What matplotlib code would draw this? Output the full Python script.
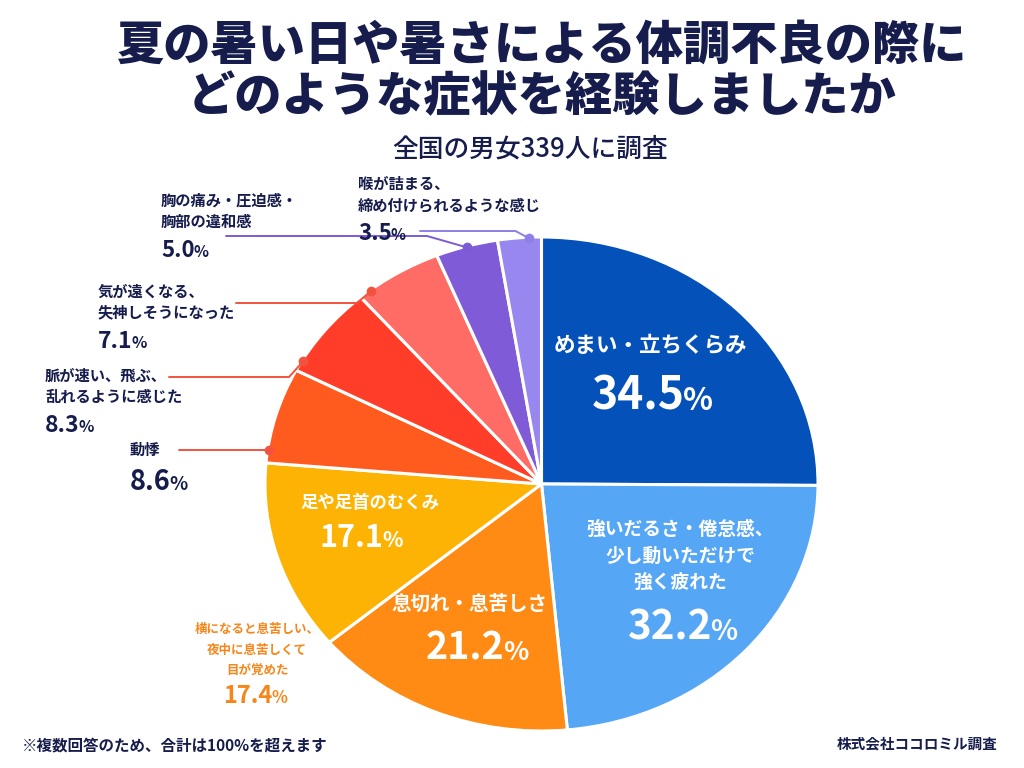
import matplotlib
matplotlib.use("Agg")
import matplotlib.pyplot as plt
import numpy as np

plt.rcParams['font.family'] = ['Noto Sans CJK JP', 'DejaVu Sans']

# data (multiple answers, so the total exceeds 100%)
labels = ['めまい・立ちくらみ', '強いだるさ・倦怠感、\n少し動いただけで\n強く疲れた', '息切れ・息苦しさ',
          '足や足首のむくみ', '動悸', '脈が速い、飛ぶ、\n乱れるように感じた',
          '気が遠くなる、\n失神しそうになった', '胸の痛み・圧迫感・\n胸部の違和感',
          '喉が詰まる、\n締め付けられるような感じ']
values = [34.5, 32.2, 21.2, 17.1, 8.6, 8.3, 7.1, 5.0, 3.5]
colors = ['#0551BA', '#56A6F6', '#FF8B14', '#FDB304', '#FF5B1E', '#FF3D28',
          '#FF6C66', '#7F5BD8', '#9787EE']
extra_label = '横になると息苦しい、\n夜中に息苦しくて\n目が覚めた'
extra_value = 17.4

navy = '#161C4C'
W, H = 1024, 768
fig = plt.figure(figsize=(W / 100, H / 100), dpi=100)
fig.patch.set_facecolor('white')

# pie axes (slightly wider than tall, like the reference)
lim = 1.02
pl, pt, pw, ph = 265, 237, 553, 494
ax = fig.add_axes([(pl - pw * (lim - 1) / 2) / W, 1 - (pt + ph + ph * (lim - 1) / 2) / H,
                   pw * lim / W, ph * lim / H])
wedges, _ = ax.pie(values, colors=colors, startangle=90, counterclock=False,
                   wedgeprops=dict(edgecolor='white', linewidth=2.2))
ax.set_aspect('auto')
ax.set_xlim(-lim, lim)
ax.set_ylim(-lim, lim)
ax.axis('off')

# overlay in pixel units for all text
ov = fig.add_axes([0, 0, 1, 1], zorder=5)
ov.set_xlim(0, W)
ov.set_ylim(H, 0)
ov.axis('off')
ov.patch.set_alpha(0)

renderer = fig.canvas.get_renderer()


def pct(x, y, v, size, color, ha='center', ratio=0.7, weight='bold'):
    t1 = ov.text(x, y, f'{v:.1f}', fontsize=size, color=color, weight=weight,
                 ha='left', va='baseline')
    t2 = ov.text(x, y, '%', fontsize=size * ratio, color=color, weight=weight,
                 ha='left', va='baseline')
    w1 = t1.get_window_extent(renderer).width
    w2 = t2.get_window_extent(renderer).width
    x0 = x - (w1 + w2) / 2 if ha == 'center' else x
    t1.set_x(x0)
    t2.set_x(x0 + w1 - 1.5)


def to_px(xd, yd):
    return ov.transData.inverted().transform(ax.transData.transform((xd, yd)))


def anchor(i, ly, use_mid=False, r=0.995):
    # point on the left rim of wedge i, as level with the label line as the wedge allows
    w = wedges[i]
    lo, hi = sorted((w.theta1 % 360, w.theta2 % 360))
    if use_mid:
        th = (lo + hi) / 2
    else:
        yd = ax.transData.inverted().transform(ov.transData.transform((0, ly)))[1]
        th = 180 - np.degrees(np.arcsin(np.clip(yd / r, -1, 1)))
        th = np.clip(th, lo + 2.5, hi - 2.5)
    t = np.deg2rad(th)
    return to_px(r * np.cos(t), r * np.sin(t))


# title
ov.text(W / 2 + 30, 45, '夏の暑い日や暑さによる体調不良の際に', fontsize=34, weight='black',
        color=navy, ha='center', va='center')
ov.text(W / 2 + 30, 97, 'どのような症状を経験しましたか', fontsize=34, weight='black',
        color=navy, ha='center', va='center')
ov.text(530, 149, '全国の男女339人に調査', fontsize=18.5, weight='medium',
        color=navy, ha='center', va='center')

# labels inside the slices
ov.text(650, 345, labels[0], fontsize=15.5, weight='bold', color='white', ha='center', va='center')
pct(653, 410, values[0], 32, 'white')
ov.text(680, 556, labels[1], fontsize=13.5, weight='bold', color='white', ha='center',
        va='center', linespacing=1.5)
pct(683, 640, values[1], 29, 'white')
ov.text(470, 604, labels[2], fontsize=14, weight='bold', color='white', ha='center', va='center')
pct(478, 660, values[2], 27, 'white')
ov.text(370, 503, labels[3], fontsize=12.5, weight='bold', color='white', ha='center', va='center')
pct(362, 547, values[3], 22, 'white')

# outside labels: (index, x, text center y, pct baseline, pct size, line y, line start x, color)
outside = [
    (8, 358, 195, 240, 16, 231, 420, '#8F7FE6'),
    (7, 161, 211, 257, 16, 236, 226, '#7B5BD6'),
    (6, 98, 302, 348, 16.5, 303, 236, '#F2533F'),
    (5, 45, 386, 432, 16.5, 377, 169, '#F2533F'),
    (4, 130, 450, 490, 19.5, 450, 179, '#F2533F'),
]
for i, x, ty, by, sz, ly, lx, lc in outside:
    ov.text(x, ty, labels[i], fontsize=11, weight='bold', color=navy, ha='left',
            va='center', linespacing=1.4)
    pct(x, by, values[i], sz, navy, ha='left')
    px, py = anchor(i, ly, use_mid=(i == 7))
    if abs(py - ly) < 3:
        xs, ys = [lx, px], [ly, py]
    else:
        knee = px - (40 if i == 7 else 14)
        xs, ys = [lx, knee, px], [ly, ly, py]
    ov.plot(xs, ys, color=lc, lw=1.4, solid_capstyle='round')
    ov.plot(px, py, 'o', color=lc, ms=7, mew=0)

# extra answer without its own slice
orange = '#F7861A'
ov.text(257, 650, extra_label, fontsize=9, weight='bold', color=orange, ha='center',
        va='center', linespacing=1.75)
pct(256, 703, extra_value, 17, orange)

# footer
ov.text(22, 745, '※複数回答のため、合計は100%を超えます', fontsize=11.2, weight='bold',
        color=navy, ha='left', va='center')
ov.text(998, 743, '株式会社ココロミル調査', fontsize=10.5, weight='bold',
        color=navy, ha='right', va='center')

fig.savefig('out.png', dpi=100, facecolor='white')
